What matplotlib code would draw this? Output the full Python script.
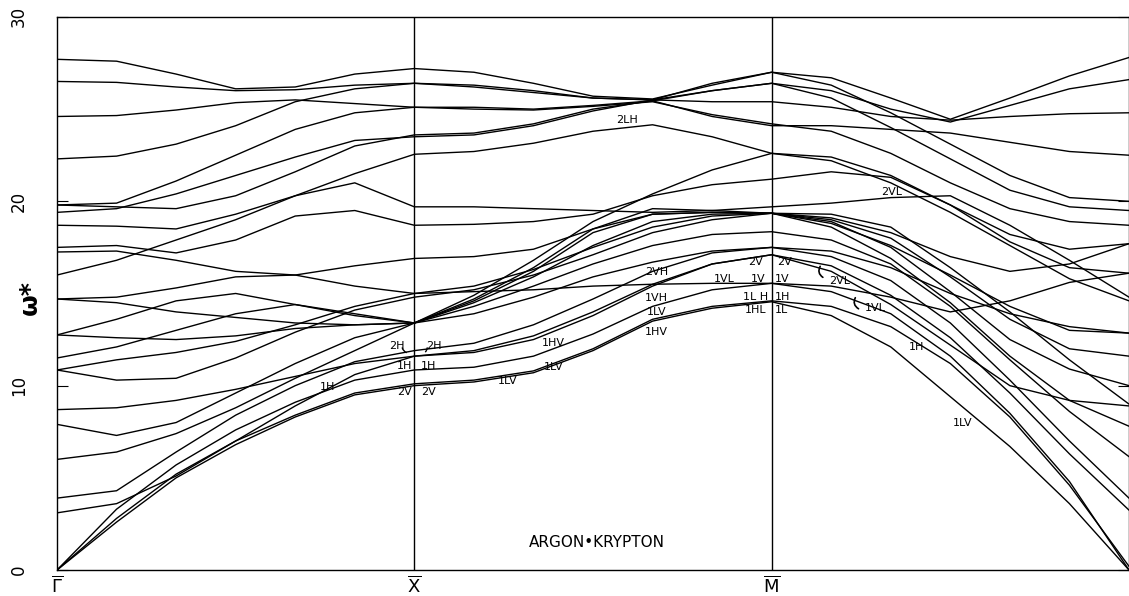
import numpy as np
import matplotlib
matplotlib.use("Agg")
from matplotlib import pyplot as plt

# path nodes: Gamma -> X -> M -> Gamma, 7 samples per segment
path_ticks = [0, 1, 2, 3]
path_labels = [r'$\overline{\Gamma}$', r'$\overline{\rm X}$', r'$\overline{\rm M}$', '']

# frequency branches (omega*) at each node
br01 = [0, 2.6, 5.0, 6.8, 8.3, 9.5, 10.0, 10.2, 10.7, 11.9, 13.5, 14.2, 14.55, 13.8, 12.1, 9.4, 6.7, 3.6, 0.0]
br02 = [0, 2.8, 5.2, 7.0, 8.4, 9.6, 10.1, 10.3, 10.8, 12.0, 13.6, 14.3, 14.6, 14.3, 13.2, 11.2, 8.3, 4.6, 0.2]
br03 = [0, 3.3, 5.7, 7.6, 9.1, 10.3, 10.85, 11.0, 11.6, 12.8, 14.3, 15.2, 15.55, 15.1, 13.9, 11.6, 8.5, 4.8, 0.0]
br04 = [3.1, 3.6, 5.1, 7.0, 8.9, 10.6, 11.6, 11.9, 12.7, 14.0, 15.5, 16.6, 17.1, 16.5, 14.9, 12.6, 9.6, 6.3, 3.25]
br05 = [3.9, 4.3, 6.4, 8.4, 10.0, 11.3, 11.9, 12.3, 13.3, 14.7, 16.2, 17.2, 17.5, 17.0, 15.7, 13.4, 10.3, 7.0, 3.9]
br06 = [6.0, 6.4, 7.4, 8.8, 10.4, 11.9, 13.4, 14.3, 15.4, 16.6, 17.6, 18.2, 18.35, 17.9, 16.6, 14.3, 11.4, 8.6, 6.15]
br07 = [7.9, 7.3, 8.0, 9.6, 11.2, 12.6, 13.4, 14.6, 16.2, 18.3, 19.3, 19.4, 19.35, 18.6, 16.9, 14.5, 11.6, 9.2, 7.8]
br08 = [8.7, 8.8, 9.2, 9.8, 10.5, 11.2, 11.6, 11.8, 12.5, 13.8, 15.4, 16.6, 17.1, 16.2, 14.4, 12.2, 10.0, 9.2, 8.9]
br09 = [10.85, 10.3, 10.4, 11.5, 12.9, 14.1, 14.8, 15.2, 16.0, 17.1, 18.3, 19.0, 19.35, 18.9, 17.5, 15.1, 12.5, 10.9, 10.0]
br10 = [11.5, 12.1, 13.0, 13.9, 14.4, 13.9, 13.4, 14.7, 16.4, 18.5, 19.6, 19.5, 19.35, 19.0, 18.0, 15.9, 13.6, 12.0, 11.6]
br11 = [12.75, 12.6, 12.5, 12.7, 13.1, 13.3, 13.4, 13.9, 14.8, 15.9, 16.7, 17.3, 17.5, 17.3, 16.4, 15.0, 13.9, 13.2, 12.85]
br12 = [14.7, 14.5, 14.0, 13.7, 13.4, 13.3, 13.4, 14.9, 16.8, 18.9, 20.4, 21.7, 22.6, 22.2, 21.0, 19.4, 17.6, 15.8, 14.6]
br13 = [14.7, 14.8, 15.3, 15.9, 16.0, 15.4, 15.0, 15.1, 15.2, 15.4, 15.5, 15.55, 15.55, 15.4, 14.8, 14.0, 14.6, 15.6, 16.1]
br14 = [17.25, 17.3, 16.8, 16.2, 16.0, 16.5, 16.9, 17.0, 17.4, 18.5, 19.3, 19.4, 19.35, 19.1, 18.3, 17.0, 16.2, 16.6, 17.7]
br15 = [18.7, 18.65, 18.5, 19.3, 20.3, 21.0, 19.7, 19.7, 19.6, 19.5, 19.4, 19.5, 19.7, 19.9, 20.2, 20.3, 18.7, 16.8, 14.8]
br16 = [17.5, 17.6, 17.2, 17.9, 19.2, 19.5, 18.7, 18.75, 18.9, 19.3, 20.3, 20.9, 21.2, 21.6, 21.3, 19.8, 17.8, 16.4, 16.1]
br17 = [16.0, 16.8, 17.9, 19.0, 20.3, 21.5, 22.55, 22.7, 23.15, 23.8, 24.15, 23.5, 22.6, 22.4, 21.4, 19.8, 18.2, 17.4, 17.7]
br18 = [27.7, 27.6, 26.9, 26.1, 26.2, 26.9, 27.2, 27.0, 26.4, 25.7, 25.55, 26.3, 27.0, 26.7, 25.6, 24.45, 25.6, 26.8, 27.8]
br19 = [26.5, 26.45, 26.2, 26.0, 26.05, 26.3, 26.4, 26.3, 26.0, 25.6, 25.5, 26.0, 26.4, 26.0, 25.0, 24.3, 25.2, 26.1, 26.6]
br20 = [22.3, 22.45, 23.1, 24.1, 25.4, 26.1, 26.4, 26.2, 25.9, 25.6, 25.5, 25.4, 25.4, 25.1, 24.6, 24.4, 24.6, 24.75, 24.8]
br21 = [24.6, 24.65, 24.95, 25.35, 25.5, 25.3, 25.1, 25.1, 25.0, 25.2, 25.45, 24.6, 24.1, 24.1, 23.9, 23.7, 23.2, 22.7, 22.5]
br22 = [19.8, 19.9, 21.1, 22.5, 23.9, 24.8, 25.1, 25.0, 24.95, 25.15, 25.4, 24.7, 24.2, 23.8, 22.6, 21.0, 19.6, 18.9, 18.7]
br23 = [19.4, 19.6, 20.4, 21.4, 22.4, 23.3, 23.5, 23.6, 24.1, 24.9, 25.5, 26.4, 27.0, 26.3, 24.8, 23.1, 21.4, 20.2, 20.0]
br24 = [19.8, 19.7, 19.6, 20.3, 21.6, 23.0, 23.6, 23.7, 24.2, 25.0, 25.45, 26.0, 26.4, 25.6, 24.0, 22.3, 20.6, 19.7, 19.5]
br25 = [12.75, 13.6, 14.6, 15.0, 14.4, 13.8, 13.4, 14.5, 15.9, 17.6, 18.9, 19.3, 19.35, 18.8, 17.6, 16.0, 14.3, 13.0, 12.85]
br26 = [10.85, 11.4, 11.8, 12.4, 13.3, 14.3, 15.0, 15.4, 16.3, 17.5, 18.6, 19.2, 19.35, 19.3, 18.6, 16.4, 14.0, 11.4, 9.0]

branches = [br01, br02, br03, br04, br05, br06, br07, br08, br09, br10, br11, br12, br13,
            br14, br15, br16, br17, br18, br19, br20, br21, br22, br23, br24, br25, br26]

# mode labels: (text, path position, omega)
mode_text = ['2LH', '2H', '2H', '1H', '1H', '2V', '2V', '1H', '1HV', '1LV', '1LV',
             '2VH', '1VH', '1LV', '1HV', '1VL', '2V', '2V', '1V', '1V', '1L H', '1H',
             '1HL', '1L', '2VL', '1VL', '2VL', '1H', '1LV']
mode_x = [1.595, 0.95, 1.055, 0.972, 1.04, 0.972, 1.04, 0.757, 1.39, 1.39, 1.26,
          1.678, 1.678, 1.678, 1.678, 1.868, 1.956, 2.035, 1.963, 2.028, 1.955, 2.03,
          1.956, 2.027, 2.19, 2.29, 2.335, 2.405, 2.535]
mode_y = [24.4, 12.15, 12.15, 11.05, 11.05, 9.65, 9.65, 9.9, 12.3, 11.0, 10.25,
          16.15, 14.75, 14.0, 12.9, 15.8, 16.7, 16.7, 15.8, 15.8, 14.8, 14.8,
          14.1, 14.1, 15.7, 14.2, 20.5, 12.1, 8.0]

seg = np.linspace(0, 1, 7)
xpath = np.concatenate([seg, 1 + seg[1:], 2 + seg[1:]])

fig = plt.figure(figsize=(11.29, 5.96), dpi=100)
ax = fig.add_axes([0.0505, 0.0436, 0.9495, 0.928])

for w in branches:
    ax.plot(xpath, w, color='black', lw=1.0, solid_joinstyle='round')

for xv in [1, 2]:
    ax.axvline(xv, color='black', lw=1.0)

for t, xv, yv in zip(mode_text, mode_x, mode_y):
    ax.text(xv, yv, t, fontsize=8, ha='center', va='center',
            family='DejaVu Sans', color='black')

# little curly pointers next to some labels
ax.annotate('', xy=(0.985, 11.75), xytext=(0.965, 12.2),
            arrowprops=dict(arrowstyle='-', lw=1.0, connectionstyle='arc3,rad=0.4'))
ax.annotate('', xy=(1.025, 11.75), xytext=(1.035, 12.2),
            arrowprops=dict(arrowstyle='-', lw=1.0, connectionstyle='arc3,rad=-0.4'))
ax.annotate('', xy=(2.14, 16.6), xytext=(2.15, 15.8),
            arrowprops=dict(arrowstyle='-', lw=1.2, connectionstyle='arc3,rad=-0.6'))
ax.annotate('', xy=(2.238, 14.9), xytext=(2.25, 14.1),
            arrowprops=dict(arrowstyle='-', lw=1.2, connectionstyle='arc3,rad=-0.6'))

ax.text(1.51, 1.5, 'ARGON\u2022KRYPTON', fontsize=11, ha='center', va='center')

ax.set_xlim(0, 3)
ax.set_ylim(0, 30)
ax.set_xticks(path_ticks)
ax.set_xticklabels(path_labels, fontsize=13)
ax.set_yticks([0, 10, 20, 30])
ax.set_yticklabels(['0', '10', '20', '30'], rotation=90, va='center', fontsize=12)
ax.tick_params(axis='y', direction='in', length=8, right=True, pad=21)
ax.tick_params(axis='x', length=0, pad=4)
for s in ax.spines.values():
    s.set_linewidth(1.0)

fig.text(30 / 1129, 0.5, '\u03c9*', fontsize=18, fontweight='bold',
         rotation=90, ha='center', va='center')

fig.savefig('out.png', dpi=100, facecolor='white')
